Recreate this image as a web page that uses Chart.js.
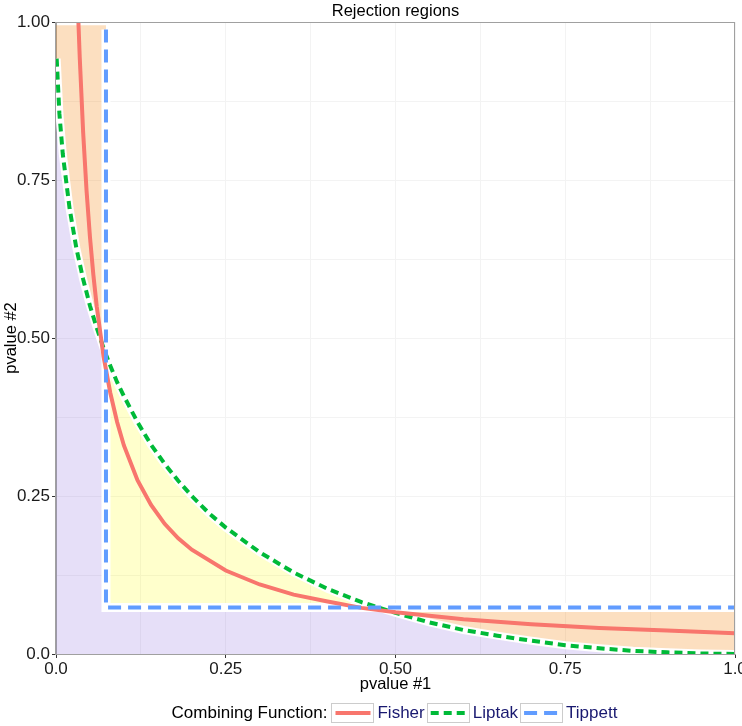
<!DOCTYPE html>
<html>
<head>
<meta charset="utf-8">
<script src="https://cdn.jsdelivr.net/npm/chart.js@4.4.1/dist/chart.umd.min.js"></script>
<style>
html,body{margin:0;padding:0;background:#ffffff;}
#wrap{width:742px;height:726px;}
</style>
</head>
<body>
<div id="wrap"><canvas id="c" width="742" height="726"></canvas></div>
<script>
// ---------------- data ----------------
const chartTitle = "Rejection regions";
const xTitle = "pvalue #1";
const yTitle = "pvalue #2";
const legendTitle = "Combining Function:";
const seriesNames = ["Fisher", "Liptak", "Tippett"];

const tickValues = [0, 0.25, 0.5, 0.75, 1];
const xTickLabels = ["0.0", "0.25", "0.50", "0.75", "1.0"];
const yTickLabels = ["0.0", "0.25", "0.50", "0.75", "1.00"];

// Fisher boundary (solid red)
const fisherX = [0.033,0.035,0.04,0.045,0.05,0.055,0.06,0.07,0.08,0.09,0.10,0.12,0.14,0.16,0.18,0.20,0.25,0.30,0.35,0.40,0.45,0.50,0.60,0.70,0.80,0.90,1.0];
const fisherY = [1.0,0.943,0.825,0.733,0.660,0.600,0.550,0.471,0.413,0.367,0.330,0.275,0.236,0.206,0.183,0.165,0.132,0.110,0.094,0.083,0.073,0.066,0.055,0.047,0.041,0.037,0.033];

// Liptak boundary (dotted green)
const liptakX = [0.001,0.005,0.01,0.02,0.03,0.04,0.05,0.06,0.07,0.08,0.09,0.10,0.12,0.14,0.16,0.18,0.20,0.225,0.25,0.30,0.35,0.40,0.45,0.50,0.55,0.60,0.65,0.70,0.75,0.80,0.85,0.90,0.95,1.0];
const liptakY = [0.942,0.855,0.791,0.705,0.642,0.593,0.551,0.516,0.484,0.456,0.430,0.408,0.367,0.331,0.301,0.274,0.250,0.223,0.200,0.161,0.129,0.103,0.082,0.065,0.050,0.038,0.029,0.021,0.014,0.009,0.005,0.0026,0.0008,0.0];

// Tippett boundary (dashed blue): min(p1,p2) threshold
const tippettCut = 0.0736;
const tippettTop = 0.988;
// where the Liptak curve meets the Tippett lines
const liptakAtCut = 0.474;
const regionTop = 0.995;

// ---------------- build shapes from the arrays ----------------
const pts = (xs, ys) => xs.map((x, i) => ({x: x, y: ys[i]}));
const liptakPts = pts(liptakX, liptakY);
const fisherPts = pts(fisherX, fisherY);
const lipLeft = liptakPts.filter(p => p.x < tippettCut);
const lipMid = liptakPts.filter(p => p.x > tippettCut && p.x < liptakAtCut);
const lipRight = liptakPts.filter(p => p.x > liptakAtCut);

const purpleShape = [{x:0,y:0},{x:0,y:liptakY[0]}]
  .concat(lipLeft)
  .concat([{x:tippettCut,y:liptakAtCut},{x:tippettCut,y:tippettCut},{x:liptakAtCut,y:tippettCut}])
  .concat(lipRight)
  .concat([{x:1,y:0},{x:0,y:0}]);
const yellowShape = [{x:tippettCut,y:tippettCut},{x:tippettCut,y:liptakAtCut}]
  .concat(lipMid)
  .concat([{x:liptakAtCut,y:tippettCut},{x:tippettCut,y:tippettCut}]);
const orangeTop = [{x:0,y:regionTop},{x:tippettCut,y:regionTop},{x:tippettCut,y:liptakAtCut}]
  .concat(lipLeft.slice().reverse())
  .concat([{x:0,y:liptakY[0]},{x:0,y:regionTop}]);
const orangeRight = [{x:liptakAtCut,y:tippettCut},{x:1,y:tippettCut}]
  .concat(lipRight.slice().reverse())
  .concat([{x:liptakAtCut,y:tippettCut}]);
const tippettPts = [{x:tippettCut,y:tippettTop},{x:tippettCut,y:tippettCut},{x:1,y:tippettCut}];

// ---------------- styles ----------------
const FONT = '"Liberation Sans", Arial, Helvetica, sans-serif';
const RED = '#F8766D', GREEN = '#00BA38', BLUE = '#619CFF';
const greenDash = [8, 5], blueDash = [13, 7];

function isMajor(v){ return tickValues.some(t => Math.abs(t - v) < 1e-9); }
function labelFor(labels){
  return function(v){ const i = tickValues.findIndex(t => Math.abs(t - v) < 1e-9); return i >= 0 ? labels[i] : ''; };
}
function tickCol(ctx){ return (ctx.tick && isMajor(ctx.tick.value)) ? '#333333' : 'rgba(0,0,0,0)'; }

function fillSet(data, color, order){
  return {data: data, order: order, borderWidth: 0, borderColor: 'rgba(0,0,0,0)', backgroundColor: color,
          fill: 'shape', pointRadius: 0, pointHoverRadius: 0, tension: 0};
}
function lineSet(data, color, width, dash, order){
  return {data: data, order: order, borderWidth: width, borderColor: color, borderDash: dash,
          backgroundColor: color, fill: false, pointRadius: 0, pointHoverRadius: 0, tension: 0,
          borderCapStyle: 'butt', borderJoinStyle: 'miter'};
}

const overlay = {
  id: 'overlay',
  afterDraw(chart){
    const ctx = chart.ctx, a = chart.chartArea;
    ctx.save();
    ctx.strokeStyle = '#A0A0A0'; ctx.lineWidth = 1; ctx.setLineDash([]);
    ctx.strokeRect(Math.round(a.left) - 0.5, Math.round(a.top) + 0.5, Math.round(a.right - a.left), Math.round(a.bottom - a.top));
    ctx.fillStyle = '#000000';
    ctx.font = '16.5px ' + FONT;
    ctx.textAlign = 'center'; ctx.textBaseline = 'middle';
    ctx.fillText(chartTitle, (a.left + a.right) / 2, 11);
    ctx.font = '17px ' + FONT; ctx.textAlign = 'left';
    const boxW = 43, boxH = 20, gapBox = 3, gapItem = 2, gapTitle = 4;
    const styles = [{c: RED, d: []}, {c: GREEN, d: greenDash}, {c: BLUE, d: blueDash}];
    let total = ctx.measureText(legendTitle).width + gapTitle;
    seriesNames.forEach(n => { total += boxW + gapBox + ctx.measureText(n).width + gapItem; });
    let x = (a.left + a.right) / 2 - total / 2;
    const y = 713;
    ctx.fillText(legendTitle, x, y);
    x += ctx.measureText(legendTitle).width + gapTitle;
    seriesNames.forEach((n, i) => {
      ctx.fillStyle = '#ffffff'; ctx.fillRect(x, y - boxH / 2, boxW, boxH);
      ctx.strokeStyle = '#CCCCCC'; ctx.lineWidth = 1; ctx.setLineDash([]);
      ctx.strokeRect(Math.round(x) + 0.5, Math.round(y - boxH / 2) + 0.5, boxW - 1, boxH - 1);
      ctx.beginPath(); ctx.strokeStyle = styles[i].c; ctx.lineWidth = 4; ctx.setLineDash(styles[i].d);
      ctx.moveTo(x + 4, y); ctx.lineTo(x + boxW - 4, y); ctx.stroke(); ctx.setLineDash([]);
      x += boxW + gapBox;
      ctx.fillStyle = '#191970'; ctx.fillText(n, x, y);
      x += ctx.measureText(n).width + gapItem;
    });
    ctx.restore();
  }
};

new Chart(document.getElementById('c'), {
  type: 'line',
  data: {
    datasets: [
      fillSet(purpleShape, 'rgba(140,110,225,0.22)', 100),
      fillSet(yellowShape, 'rgba(255,255,0,0.2)', 99),
      fillSet(orangeTop, 'rgba(245,140,30,0.28)', 98),
      fillSet(orangeRight, 'rgba(245,140,30,0.28)', 97),
      lineSet(liptakPts, '#ffffff', 8, [], 20),
      lineSet(tippettPts, '#ffffff', 9, [], 19),
      lineSet(liptakPts, GREEN, 4, greenDash, 3),
      lineSet(fisherPts, RED, 4, [], 2),
      lineSet(tippettPts, BLUE, 4, blueDash, 1)
    ]
  },
  options: {
    responsive: false,
    animation: false,
    devicePixelRatio: 1,
    layout: {padding: {top: 22, right: 7, bottom: 30, left: 0}},
    plugins: {legend: {display: false}, title: {display: false}, tooltip: {enabled: false}},
    events: [],
    scales: {
      x: {
        type: 'linear', min: 0, max: 1,
        ticks: {stepSize: 0.125, autoSkip: false, maxRotation: 0, minRotation: 0, padding: 1,
                color: '#1a1a1a', font: {family: FONT, size: 17}, callback: labelFor(xTickLabels)},
        grid: {color: '#F3F3F3', lineWidth: 1, tickLength: 4, tickColor: tickCol, drawTicks: true},
        border: {display: true, color: '#A0A0A0', width: 1},
        title: {display: true, text: xTitle, color: '#000', font: {family: FONT, size: 16.5}, padding: {top: 0, bottom: 2}},
        afterFit(s){ s.height = 42; s.paddingLeft = 0; s.paddingRight = 0; }
      },
      y: {
        type: 'linear', min: 0, max: 1,
        ticks: {stepSize: 0.125, autoSkip: false, padding: 2,
                color: '#1a1a1a', font: {family: FONT, size: 17}, callback: labelFor(yTickLabels)},
        grid: {color: '#F3F3F3', lineWidth: 1, tickLength: 4, tickColor: tickCol, drawTicks: true},
        border: {display: true, color: '#A0A0A0', width: 1},
        title: {display: true, text: yTitle, color: '#000', font: {family: FONT, size: 16.5}, padding: {top: 2, bottom: 0}},
        afterFit(s){ s.width = 56; s.paddingTop = 0; s.paddingBottom = 0; }
      }
    }
  },
  plugins: [overlay]
});
</script>
</body>
</html>
